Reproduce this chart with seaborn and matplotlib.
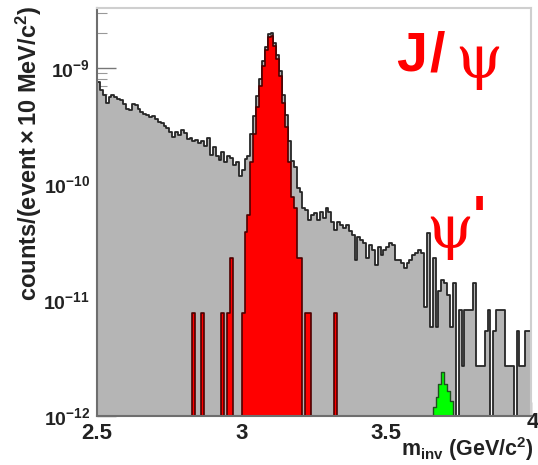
import numpy as np
import pandas as pd
import matplotlib
matplotlib.use("Agg")
import matplotlib.pyplot as plt
import matplotlib.transforms as mtransforms
from matplotlib.ticker import FixedLocator, FuncFormatter, NullFormatter
import seaborn as sns

sns.set_theme(style="white")
plt.rcParams["font.family"] = ["Liberation Sans", "DejaVu Sans"]
plt.rcParams["mathtext.fontset"] = "custom"
plt.rcParams["mathtext.rm"] = "Liberation Sans"
plt.rcParams["mathtext.bf"] = "Liberation Sans:bold"
plt.rcParams["mathtext.it"] = "Liberation Sans:italic"
plt.rcParams["axes.unicode_minus"] = False

# invariant-mass binning: 10 MeV bins from 2.5 to 4.0 GeV/c^2
M_MIN, M_MAX, N_BINS = 2.5, 4.0, 150
UNIT = 1e-12  # values below are in units of 1e-12 counts/(event x 10 MeV/c^2)

# all pairs (signal + continuum), one value per bin
all_pairs = [
    757, 650, 580, 500, 560, 585, 560, 545, 530, 490,
    440, 434, 490, 480, 445, 420, 400, 395, 375, 385,
    362, 342, 336, 316, 304, 282, 255, 282, 264, 292,
    275, 245, 249, 235, 240, 225, 235, 212, 249, 178,
    208, 174, 161, 190, 154, 174, 167, 146, 154, 118,
    133, 164, 174, 272, 385, 574, 803, 1148, 1530, 1950,
    1987, 1638, 1289, 939, 590, 394, 237, 157, 140, 93,
    85, 62, 60, 49, 54, 56, 49, 57, 51, 62,
    57, 47, 40, 47, 44, 42, 44, 39, 36, 22,
    35, 33, 31, 23, 30, 27, 20, 28.6, 24.4, 27,
    28.6, 31, 30, 22, 22, 21, 19, 21, 22, 24.4,
    25.4, 27, 25.4, 8.7, 38, 5.85, 23, 5.85, 12, 15,
    14, 11, 5.85, 14, 0, 8.2, 2.7, 8.2, 8.2, 8.2,
    14, 2.7, 2.7, 2.7, 5.4, 8.2, 0, 5.4, 8.2, 8.2,
    8.2, 2.7, 2.7, 2.7, 0, 5.4, 2.7, 2.7, 5.4, 5.4,
]

# J/psi signal: bin index -> value
jpsi_bins = [33, 36, 43, 45, 46, 50, 51, 52, 53, 54, 55, 56, 57, 58, 59,
             60, 61, 62, 63, 64, 65, 66, 67, 68, 69, 70, 72, 73, 82]
jpsi_vals = [7.7, 7.7, 7.7, 7.7, 23, 7.7, 38.5, 54, 154, 270, 462, 693, 1040, 1425, 1848,
             1887, 1540, 1194, 847, 500, 308, 154, 77, 62, 23, 23, 7.7, 7.7, 7.7]

# psi' signal
psi2s_bins = [116, 117, 118, 119, 120, 121, 122]
psi2s_vals = [1.2, 1.45, 1.9, 2.4, 1.9, 1.65, 1.35]

x_ticks = [2.5, 3.0, 3.5, 4.0]
x_tick_labels = ["2.5", "3", "3.5", "4"]
y_ticks = [1e-12, 1e-11, 1e-10, 1e-9]

edges = list(np.linspace(M_MIN, M_MAX, N_BINS + 1))
centers = 0.5 * (np.array(edges[:-1]) + np.array(edges[1:]))

jpsi = np.zeros(N_BINS)
jpsi[jpsi_bins] = jpsi_vals
psi2s = np.zeros(N_BINS)
psi2s[psi2s_bins] = psi2s_vals

df = pd.DataFrame({
    "m": centers,
    "all": np.array(all_pairs, dtype=float) * UNIT,
    "jpsi": jpsi * UNIT,
    "psi2s": psi2s * UNIT,
})

fig = plt.figure(figsize=(5.38, 4.65), dpi=100)
ax = fig.add_axes([97 / 538, 1 - 416 / 465, 434 / 538, 408 / 465])
ax.set_yscale("log", nonpositive="clip")

sns.histplot(data=df, x="m", weights="all", bins=edges, element="step", fill=True,
             facecolor="#b5b5b5", edgecolor="#262626", linewidth=1.3, alpha=1, ax=ax)
sns.histplot(data=df, x="m", weights="jpsi", bins=edges, element="step", fill=True,
             facecolor="#ff0000", edgecolor="#4d0000", linewidth=1.2, alpha=1, ax=ax)
sns.histplot(data=df, x="m", weights="psi2s", bins=edges, element="step", fill=True,
             facecolor="#00ff00", edgecolor="#1f4f1f", linewidth=1.0, alpha=1, ax=ax)

ax.set_xlim(M_MIN, M_MAX)
ax.set_ylim(1e-12, 10 ** (-12 + 408 / 116))
ax.set_axisbelow(True)

# ticks and labels
ax.xaxis.set_major_locator(FixedLocator(x_ticks))
ax.set_xticklabels(x_tick_labels, fontweight="bold", fontsize=16)
ax.yaxis.set_major_locator(FixedLocator(y_ticks))
ax.yaxis.set_major_formatter(FuncFormatter(
    lambda v, p: r"$\mathbf{10^{%d}}$" % int(round(np.log10(v)))))
minor = [k * 10.0 ** e for e in range(-12, -8) for k in range(2, 10)]
ax.yaxis.set_minor_locator(FixedLocator(minor))
ax.yaxis.set_minor_formatter(NullFormatter())
ax.tick_params(axis="y", which="major", direction="in", length=14, width=1.0,
               color="#777777", labelsize=14, pad=5, left=True)
ax.tick_params(axis="y", which="minor", direction="in", length=7, width=0.8,
               color="#999999", left=True)
ax.tick_params(axis="x", which="major", direction="in", length=10, width=1.0,
               color="#777777", pad=5, bottom=True)
for t in ax.get_yticklabels():
    t.set_color("#222222")
for t in ax.get_xticklabels():
    t.set_color("#222222")
# last x label sits a little higher, ROOT style
last = ax.get_xticklabels()[-1]
last.set_transform(last.get_transform() +
                   mtransforms.ScaledTranslation(0.02, 0.11, fig.dpi_scale_trans))

ax.set_xlabel("")
ax.set_ylabel("")

for side in ("left", "bottom"):
    ax.spines[side].set_color("#6e6e6e")
    ax.spines[side].set_linewidth(1.5)
for side in ("top", "right"):
    ax.spines[side].set_color("#cfcfcf")
    ax.spines[side].set_linewidth(1.5)

fig.text(29 / 538, 1 - 6 / 465, r"$\mathbf{counts/(event \times 10\ MeV/c^{2})}$",
         rotation=90, ha="center", va="top", fontsize=17, color="#222222")
fig.text(534 / 538, 1 - 456 / 465, r"$\mathbf{m_{inv}\ (GeV/c^{2})}$",
         ha="right", va="baseline", fontsize=15.5, color="#222222")

# peak labels
ax.text(396, 465 - 70, "J", transform=None, color="#ff0000", fontsize=40,
        fontweight="bold", ha="left", va="baseline")
ax.text(429, 465 - 70, "/", transform=None, color="#ff0000", fontsize=40,
        fontweight="bold", ha="left", va="baseline")
ax.text(455, 465 - 90, "\u03c8", transform=None, color="#ff0000", fontsize=43,
        family="DejaVu Serif", ha="left", va="bottom")
ax.text(426, 465 - 260, "\u03c8", transform=None, color="#ff0000", fontsize=43,
        family="DejaVu Serif", ha="left", va="bottom")
ax.text(473, 465 - 194, "'", transform=None, color="#ff0000", fontsize=40,
        fontweight="bold", ha="left", va="top")

fig.savefig("out.png", dpi=100, facecolor="white")
